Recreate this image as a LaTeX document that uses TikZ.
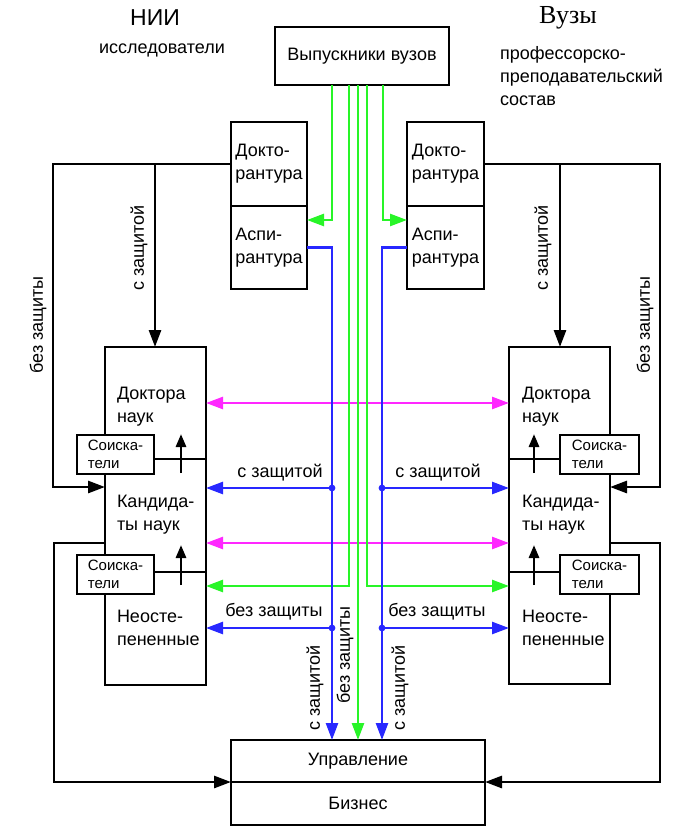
\documentclass[tikz,border=0pt]{standalone}
\usepackage{fontspec}
\setmainfont{Liberation Sans}
\newfontfamily\serifvuz{Liberation Serif}
\usetikzlibrary{arrows.meta}
\definecolor{gr}{RGB}{40,245,40}
\definecolor{bl}{RGB}{40,40,255}
\definecolor{mg}{RGB}{255,40,255}
\begin{document}
\begin{tikzpicture}[x=1pt,y=-1pt,
  every node/.style={font=\fontsize{18}{23}\selectfont, inner sep=0pt, outer sep=0pt},
  box/.style={draw, line width=2.8pt, fill=white, align=left},
  small/.style={font=\fontsize{15}{18}\selectfont},
  blk/.style={line width=2.8pt},
  tip/.style={-{Triangle[length=17pt,width=12pt]}},
  stip/.style={-{Triangle[length=13pt,width=10pt]}},
  both/.style={{Triangle[length=17pt,width=12pt]}-{Triangle[length=17pt,width=12pt]}},
  grl/.style={draw=gr, line width=2.5pt},
  bll/.style={draw=bl, line width=2.5pt},
  mgl/.style={draw=mg, line width=2.5pt},
  lbl/.style={align=left}
]
\fill[white] (0,0) rectangle (686,827);
\useasboundingbox (0,0) rectangle (686,827);

% titles
\node[font=\fontsize{23}{28}\selectfont] (nii) at (155,18) {НИИ};
\node (issl) at (162,50) {исследователи};
\node[font=\serifvuz\fontsize{26}{30}\selectfont] (vuzy) at (568,18) {Вузы};
\node[anchor=west, lbl] (pps) at (500,76) {профессорско-\\преподавательский\\состав};

% boxes
\node[box, minimum width=174pt, minimum height=58pt] (grad) at (362,56) {Выпускники вузов};
\node[box, minimum width=76pt, minimum height=84pt] (ldok) at (269,164) {Докто-\\рантура};
\node[box, minimum width=76pt, minimum height=83pt] (lasp) at (269,247.5) {Аспи-\\рантура};
\node[box, minimum width=77pt, minimum height=84pt] (rdok) at (445.5,164) {Докто-\\рантура};
\node[box, minimum width=77pt, minimum height=83pt] (rasp) at (445.5,247.5) {Аспи-\\рантура};

\node[box, minimum width=101pt, minimum height=338pt] (lbig) at (155.5,516) {};
\node[box, minimum width=101pt, minimum height=337pt] (rbig) at (559.5,515.5) {};

\node[box, small, minimum width=77pt, minimum height=39pt] (ls1) at (115.5,454.5) {Соиска-\\тели};
\node[box, small, minimum width=77pt, minimum height=39pt] (ls2) at (115.5,574.5) {Соиска-\\тели};
\node[box, small, minimum width=79pt, minimum height=39pt] (rs1) at (599.5,454.5) {Соиска-\\тели};
\node[box, small, minimum width=79pt, minimum height=39pt] (rs2) at (599.5,574.5) {Соиска-\\тели};

\node[box, minimum width=254pt, minimum height=42pt] (upr) at (358,761) {Управление};
\node[box, minimum width=254pt, minimum height=43pt] (biz) at (358,803.5) {Бизнес};

% texts in big boxes
\node[anchor=west, lbl] (ld) at (117,407) {Доктора\\наук};
\node[anchor=west, lbl] (lk) at (117,514.5) {Кандида-\\ты наук};
\node[anchor=west, lbl] (ln) at (117,627.5) {Неосте-\\пененные};
\node[anchor=west, lbl] (rd) at (522,407) {Доктора\\наук};
\node[anchor=west, lbl] (rk) at (522,514.5) {Кандида-\\ты наук};
\node[anchor=west, lbl] (rn) at (522,627.5) {Неосте-\\пененные};

% dividers and inner arrows
\coordinate (ldv1) at (154,459);
\coordinate (ldv2) at (154,572);
\draw[blk] (ldv1) -- (ldv1 -| lbig.east);
\draw[blk] (ldv2) -- (ldv2 -| lbig.east);
\coordinate (rdv1) at (560,459);
\coordinate (rdv2) at (560,572);
\draw[blk] (rdv1) -- (rdv1 -| rbig.west);
\draw[blk] (rdv2) -- (rdv2 -| rbig.west);
\coordinate (lu1) at (181,473); \coordinate (lu1t) at (181,434);
\coordinate (lu2) at (181,585); \coordinate (lu2t) at (181,545);
\coordinate (ru1) at (534,473); \coordinate (ru1t) at (534,434);
\coordinate (ru2) at (534,585); \coordinate (ru2t) at (534,545);
\draw[blk,stip] (lu1) -- (lu1t);
\draw[blk,stip] (lu2) -- (lu2t);
\draw[blk,stip] (ru1) -- (ru1t);
\draw[blk,stip] (ru2) -- (ru2t);

% outer black connectors, left
\coordinate (lo1) at (53,487);
\draw[blk,tip] (ldok.west) -| (lo1) -- (lo1 -| lbig.west);
\coordinate (lj) at (155,164);
\draw[blk,tip] (lj) -- (lj |- lbig.north);
\coordinate (lo2) at (54,543);
\draw[blk,tip] (lo2 -| lbig.west) -- (lo2) |- (upr.south west);
% right
\coordinate (ro1) at (660,487);
\draw[blk,tip] (rdok.east) -| (ro1) -- (ro1 -| rbig.east);
\coordinate (rj) at (560,164);
\draw[blk,tip] (rj) -- (rj |- rbig.north);
\coordinate (ro2) at (660,543);
\draw[blk,tip] (ro2 -| rbig.east) -- (ro2) |- (upr.south east);

% magenta
\coordinate (m1) at (0,403);
\coordinate (m2) at (0,543);
\draw[mgl,both] (lbig.east |- m1) -- (rbig.west |- m1);
\draw[mgl,both] (lbig.east |- m2) -- (rbig.west |- m2);

% green
\coordinate (g1) at (332,220);
\coordinate (g2) at (349,586);
\coordinate (g3) at (358,740);
\coordinate (g4) at (367,586);
\coordinate (g5) at (383,220);
\draw[grl,tip] (g1 |- grad.south) -- (g1) -- (g1 -| lasp.east);
\draw[grl,tip] (g5 |- grad.south) -- (g5) -- (g5 -| rasp.west);
\draw[grl,tip] (g2 |- grad.south) -- (g2) -- (g2 -| lbig.east);
\draw[grl,tip] (g4 |- grad.south) -- (g4) -- (g4 -| rbig.west);
\draw[grl,tip] (g3 |- grad.south) -- (g3 |- upr.north);

% blue
\coordinate (b1) at (332,0);
\coordinate (b2) at (382,0);
\draw[bll,tip] (lasp.east) -| (b1 |- upr.north);
\draw[bll,tip] (rasp.west) -| (b2 |- upr.north);
\coordinate (bl1) at (332,488); \coordinate (bl2) at (332,628);
\coordinate (br1) at (382,488); \coordinate (br2) at (382,628);
\draw[bll,tip] (bl1) -- (bl1 -| lbig.east);
\draw[bll,tip] (bl2) -- (bl2 -| lbig.east);
\draw[bll,tip] (br1) -- (br1 -| rbig.west);
\draw[bll,tip] (br2) -- (br2 -| rbig.west);
\fill[bl] (bl1) circle (3.4) (bl2) circle (3.4) (br1) circle (3.4) (br2) circle (3.4);

% labels
\node[rotate=90] (t1) at (38,325) {без защиты};
\node[rotate=90] (t2) at (139,248) {с защитой};
\node[rotate=90] (t3) at (543,248) {с защитой};
\node[rotate=90] (t4) at (645,325) {без защиты};
\node (t5) at (280,473) {с защитой};
\node (t6) at (438,473) {с защитой};
\node (t7) at (274,612) {без защиты};
\node (t8) at (437,612) {без защиты};
\node[rotate=90] (t9) at (315,688) {с защитой};
\node[rotate=90] (t10) at (345,655) {без защиты};
\node[rotate=90] (t11) at (400,688) {с защитой};
\end{tikzpicture}
\end{document}
